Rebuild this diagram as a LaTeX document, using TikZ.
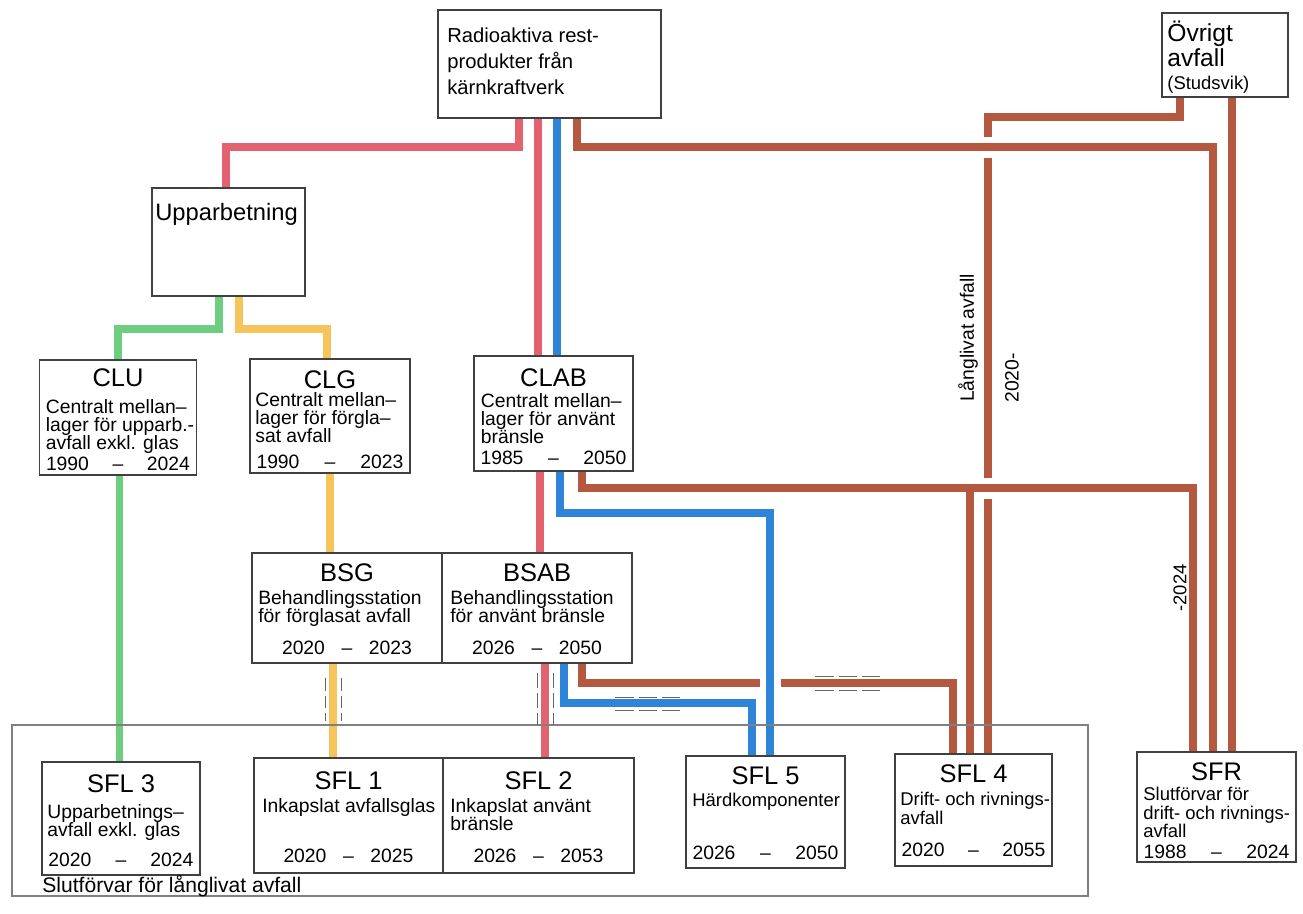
\documentclass[tikz,border=0pt]{standalone}
\usepackage{fontspec}
\setmainfont{Liberation Sans}
\usetikzlibrary{positioning, backgrounds}

\definecolor{flowred}{RGB}{226,98,112}
\definecolor{flowblue}{RGB}{46,132,214}
\definecolor{flowbrown}{RGB}{181,88,64}
\definecolor{flowgreen}{RGB}{110,206,128}
\definecolor{flowyellow}{RGB}{246,196,90}

\newcommand{\yrs}[2]{#1\hfill--\hfill#2}

\begin{document}
\begin{tikzpicture}[
    box/.style = {draw=black!75, line width=0.85pt, fill=white, inner sep=0pt, outer sep=0pt},
    boxtitle/.style = {font=\fontsize{14.5}{16}\selectfont, inner sep=0pt, anchor=north},
    boxtext/.style = {font=\fontsize{11}{10.4}\selectfont, align=left, inner sep=0pt, anchor=north west},
    smalltext/.style = {font=\fontsize{10.5}{10.4}\selectfont},
    boxyears/.style = {font=\fontsize{11}{12}\selectfont, align=left, inner sep=0pt, anchor=south, text width=#1},
    sidetext/.style = {font=\fontsize{11}{12}\selectfont, inner sep=0pt, rotate=90},
    flow/.style = {line width=0.15cm},
    flow_red/.style = {flow, draw=flowred},
    flow_blue/.style = {flow, draw=flowblue},
    flow_brown/.style = {flow, draw=flowbrown},
    flow_green/.style = {flow, draw=flowgreen},
    flow_yellow/.style = {flow, draw=flowyellow},
    cased/.style = {preaction={draw=white, line width=0.42cm}},
    tick/.style = {draw=black!60, line width=0.5pt},
    frame/.style = {draw=black!50, line width=0.6pt},
]
\useasboundingbox (0,0) rectangle (26.06,-18.26);

% Källor (överst)
\node[box, minimum width=4.46cm, minimum height=2.16cm] (rad) at (10.99,-1.28) {};
\node[anchor=north west, align=left, inner sep=0pt, font=\fontsize{11.5}{14.7}\selectfont]
    (radtext) at ([xshift=0.18cm,yshift=-0.35cm]rad.north west)
    {Radioaktiva rest-\\produkter från\\kärnkraftverk};

\node[box, minimum width=2.52cm, minimum height=1.68cm] (ovr) at (24.5,-1.1) {};
\node[anchor=north west, align=left, inner sep=0pt, font=\fontsize{14}{12.2}\selectfont]
    (ovrtext) at ([xshift=0.1cm,yshift=-0.16cm]ovr.north west)
    {Övrigt\\avfall\\[1pt]{\fontsize{10.5}{12}\selectfont(Studsvik)}};

\node[box, minimum width=3.06cm, minimum height=2.16cm] (upp) at (4.57,-4.84) {};
\node[anchor=north west, inner sep=0pt, font=\fontsize{13.5}{15}\selectfont]
    (upptext) at ([xshift=0.06cm,yshift=-0.3cm]upp.north west) {Upparbetning};

% Mellanlager
\node[box, minimum width=3.14cm, minimum height=2.3cm] (clu) at (2.36,-8.35) {};
\node[boxtitle] (clut) at ([yshift=-0.16cm]clu.north) {CLU};
\node[boxtext] (club) at ([xshift=0.12cm,yshift=-0.78cm]clu.north west)
    {Centralt mellan–\\lager för upparb.-\\avfall exkl. glas};
\node[boxyears=2.88cm] (cluy) at ([yshift=0.08cm]clu.south) {\yrs{1990}{2024}};

\node[box, minimum width=3.2cm, minimum height=2.28cm] (clg) at (6.6,-8.32) {};
\node[boxtitle] (clgt) at ([yshift=-0.22cm]clg.north) {CLG};
\node[boxtext] (clgb) at ([xshift=0.1cm,yshift=-0.66cm]clg.north west)
    {Centralt mellan–\\lager för förgla–\\sat avfall};
\node[boxyears=2.94cm] (clgy) at ([yshift=0.08cm]clg.south) {\yrs{1990}{2023}};

\node[box, minimum width=3.18cm, minimum height=2.3cm] (clab) at (11.07,-8.27) {};
\node[boxtitle] (clabt) at ([yshift=-0.24cm]clab.north) {CLAB};
\node[boxtext] (clabb) at ([xshift=0.13cm,yshift=-0.74cm]clab.north west)
    {Centralt mellan–\\lager för använt\\bränsle};
\node[boxyears=2.92cm] (claby) at ([yshift=0.12cm]clab.south) {\yrs{1985}{2050}};

% Behandlingsstationer
\node[box, minimum width=3.8cm, minimum height=2.2cm] (bsg) at (6.94,-12.16) {};
\node[boxtitle] (bsgt) at ([yshift=-0.2cm]bsg.north) {BSG};
\node[boxtext] (bsgb) at ([xshift=0.12cm,yshift=-0.74cm]bsg.north west)
    {Behandlingsstation\\för förglasat avfall};
\node[boxyears=2.6cm] (bsgy) at ([yshift=0.16cm]bsg.south) {\yrs{2020}{2023}};

\node[box, minimum width=3.8cm, minimum height=2.2cm, right=0pt of bsg] (bsab) {};
\node[boxtitle] (bsabt) at ([yshift=-0.2cm]bsab.north) {BSAB};
\node[boxtext] (bsabb) at ([xshift=0.16cm,yshift=-0.74cm]bsab.north west)
    {Behandlingsstation\\för använt bränsle};
\node[boxyears=2.6cm] (bsaby) at ([yshift=0.16cm]bsab.south) {\yrs{2026}{2050}};

% Slutförvar
\node[box, minimum width=3.16cm, minimum height=2.26cm] (sfl3) at (2.42,-16.37) {};
\node[boxtitle] (sfl3t) at ([yshift=-0.24cm]sfl3.north) {SFL 3};
\node[boxtext] (sfl3b) at ([xshift=0.1cm,yshift=-0.84cm]sfl3.north west)
    {Upparbetnings–\\avfall exkl. glas};
\node[boxyears=2.9cm] (sfl3y) at ([yshift=0.16cm]sfl3.south) {\yrs{2020}{2024}};

\node[box, minimum width=3.78cm, minimum height=2.3cm] (sfl1) at (6.97,-16.31) {};
\node[boxtitle] (sfl1t) at ([yshift=-0.26cm]sfl1.north) {SFL 1};
\node[boxtext] (sfl1b) at ([xshift=0.16cm,yshift=-0.8cm]sfl1.north west)
    {Inkapslat avfallsglas};
\node[boxyears=2.6cm] (sfl1y) at ([yshift=0.2cm]sfl1.south) {\yrs{2020}{2025}};

\node[box, minimum width=3.82cm, minimum height=2.3cm, right=0pt of sfl1] (sfl2) {};
\node[boxtitle] (sfl2t) at ([yshift=-0.26cm]sfl2.north) {SFL 2};
\node[boxtext] (sfl2b) at ([xshift=0.14cm,yshift=-0.8cm]sfl2.north west)
    {Inkapslat använt\\bränsle};
\node[boxyears=2.6cm] (sfl2y) at ([yshift=0.2cm]sfl2.south) {\yrs{2026}{2053}};

\node[box, minimum width=3.18cm, minimum height=2.24cm] (sfl5) at (15.31,-16.24) {};
\node[boxtitle] (sfl5t) at ([yshift=-0.2cm]sfl5.north) {SFL 5};
\node[boxtext, smalltext] (sfl5b) at ([xshift=0.12cm,yshift=-0.74cm]sfl5.north west)
    {Härdkomponenter};
\node[boxyears=2.92cm] (sfl5y) at ([yshift=0.16cm]sfl5.south) {\yrs{2026}{2050}};

\node[box, minimum width=3.14cm, minimum height=2.24cm] (sfl4) at (19.47,-16.2) {};
\node[boxtitle] (sfl4t) at ([yshift=-0.2cm]sfl4.north) {SFL 4};
\node[boxtext, smalltext] (sfl4b) at ([xshift=0.1cm,yshift=-0.76cm]sfl4.north west)
    {Drift- och rivnings-\\avfall};
\node[boxyears=2.88cm] (sfl4y) at ([yshift=0.18cm]sfl4.south) {\yrs{2020}{2055}};

\node[box, minimum width=3.18cm, minimum height=2.2cm] (sfr) at (24.33,-16.14) {};
\node[boxtitle] (sfrt) at ([yshift=-0.2cm]sfr.north) {SFR};
\node[boxtext, smalltext] (sfrb) at ([xshift=0.12cm,yshift=-0.7cm]sfr.north west)
    {Slutförvar för\\drift- och rivnings-\\avfall};
\node[boxyears=2.92cm] (sfry) at ([yshift=0.06cm]sfr.south) {\yrs{1988}{2024}};

% Ram kring långlivat avfall
\draw[frame] (0.24,-14.5) rectangle (21.76,-17.92);
\node[anchor=west, inner sep=0pt, font=\fontsize{12}{13}\selectfont]
    (slut) at (0.84,-17.72) {Slutförvar för långlivat avfall};

% Texter längs linjerna
\node[sidetext] (langliv) at (19.36,-6.76) {Långlivat avfall};
\node[sidetext] (yr2020) at (20.24,-7.56) {2020-};
\node[sidetext, font=\fontsize{10.5}{12}\selectfont] (yr2024) at (23.6,-11.76) {-2024};

% Streckade markeringar
\foreach \x in {6.5,6.82}
    \draw[tick, dash pattern=on 0.25cm off 0.1cm] (\x,-13.56) -- ++(0,-0.86);
\foreach \x in {10.74,11.06}
    \draw[tick, dash pattern=on 0.3cm off 0.1cm] (\x,-13.46) -- ++(0,-1.04);
\foreach \y in {-13.94,-14.2}
    \draw[tick, dash pattern=on 0.37cm off 0.1cm] (12.3,\y) -- (13.6,\y);
\foreach \y in {-13.52,-13.8}
    \draw[tick, dash pattern=on 0.37cm off 0.1cm] (16.3,\y) -- (17.6,\y);

\begin{pgfonlayer}{background}
% Övrigt avfall
\draw[flow_brown] ([xshift=-0.9cm]ovr.south) -- ++(0,-0.4) -| ([xshift=0.29cm]sfl4.north);
\draw[flow_brown] ([xshift=0.14cm]ovr.south) -- ([xshift=0.14cm]ovr.south |- sfr.north);

% Upparbetning
\draw[flow_red] ([xshift=-0.61cm]rad.south) -- ++(0,-0.58) -| ([xshift=-0.05cm]upp.north);
\draw[flow_green] ([xshift=-0.19cm]upp.south) -- ++(0,-0.66) -| (clu.north);
\draw[flow_green] ([xshift=0.03cm]clu.south) -- ([xshift=0.03cm]clu.south |- sfl3.north);
\draw[flow_yellow] ([xshift=0.21cm]upp.south) -- ++(0,-0.66) -| ([xshift=-0.06cm]clg.north);
\draw[flow_yellow] (clg.south) -- (clg.south |- bsg.north);
\draw[flow_yellow] ([xshift=-0.28cm]bsg.south) -- ([xshift=-0.28cm]bsg.south |- sfl1.north);

% Använt bränsle
\draw[flow_red] ([xshift=-0.23cm]rad.south) -- ([xshift=-0.23cm]rad.south |- clab.north);
\draw[flow_red] ([xshift=-0.27cm]clab.south) -- ([xshift=-0.27cm]clab.south |- bsab.north);
\draw[flow_red] ([xshift=0.16cm]bsab.south) -- ([xshift=0.16cm]bsab.south |- sfl2.north);

% Drift- och rivningsavfall
\draw[flow_brown] ([xshift=0.9cm]bsab.south) -- ++(0,-0.4) -| ([xshift=-0.41cm]sfl4.north);
\draw[flow_brown, cased] ([xshift=0.55cm]rad.south) -- ++(0,-0.58) -| ([xshift=-0.07cm]sfr.north);
\draw[flow_brown, cased] ([xshift=0.57cm]clab.south) -- ++(0,-0.34) coordinate (clabturn)
    -| ([xshift=-0.47cm]sfr.north);
\draw[flow_brown] ([xshift=-0.07cm]sfl4.north) -- ([xshift=-0.07cm]sfl4.north |- clabturn);

% Härdkomponenter
\draw[flow_blue] ([xshift=0.15cm]rad.south) -- ([xshift=0.15cm]rad.south |- clab.north);
\draw[flow_blue] ([xshift=0.54cm]bsab.south) -- ++(0,-0.8) -| ([xshift=-0.27cm]sfl5.north);
\draw[flow_blue, cased] ([xshift=0.13cm]clab.south) -- ++(0,-0.84) -| ([xshift=0.09cm]sfl5.north);
\end{pgfonlayer}

\end{tikzpicture}
\end{document}
